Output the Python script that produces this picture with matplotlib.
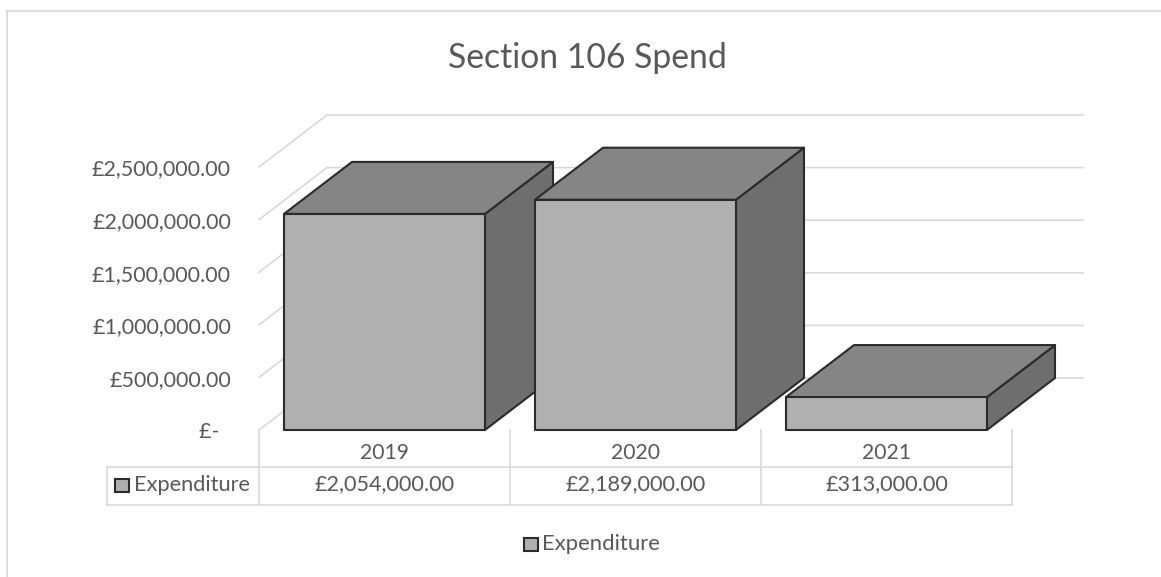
import matplotlib
matplotlib.use('Agg')
import matplotlib.pyplot as plt
from matplotlib.patches import Polygon, Rectangle

years = ['2019', '2020', '2021']
expenditure = [2054000, 2189000, 313000]
table_labels = ['£2,054,000.00', '£2,189,000.00', '£313,000.00']
y_ticks = [0, 500000, 1000000, 1500000, 2000000, 2500000]
y_tick_labels = ['£-  ', '£500,000.00', '£1,000,000.00', '£1,500,000.00',
                 '£2,000,000.00', '£2,500,000.00']

W, H = 1161, 577
TEXT = '#595959'
GRID = '#d9d9d9'
# oblique depth of the fake 3d, in data units
DX = 68 / 251
DY = 52 / 105.2 * 1e6
HALF = 100.5 / 251

plt.rcParams['font.family'] = ['Lato', 'DejaVu Sans']

fig = plt.figure(figsize=(W / 100, H / 100), dpi=100)

# axes spans the back wall, everything in front of it is unclipped
left, right, top, bottom = 259, 1083, 115, 430
ax = fig.add_axes([left / W, 1 - bottom / H, (right - left) / W, (bottom - top) / H])
ax.set_xlim(-0.5, (right - 384.5) / 251)
ax.set_ylim(0, (bottom - top) / 105.2 * 1e6)
ax.axis('off')


def to_fig(px, py):
    return px / W, 1 - py / H


# chart frame, only top and left are inside the crop
fig.add_artist(plt.Line2D([6.5 / W, 6.5 / W], [0, 1 - 11 / H], color=GRID, lw=1.3))
fig.add_artist(plt.Line2D([6.5 / W, 1], [1 - 11 / H, 1 - 11 / H], color=GRID, lw=1.3))

fig.text(*to_fig(587, 58), 'Section 106 Spend', fontsize=24.3, color=TEXT, ha='center', va='center')

# gridlines: slanted part on the side wall then along the back wall
for v, lab in zip(y_ticks, y_tick_labels):
    ax.plot([-0.5, -0.5 + DX, (right - 384.5) / 251], [v, v + DY, v + DY],
            color=GRID, lw=1.2, clip_on=False, zorder=1)
    ax.annotate(lab, (-0.5, v), xytext=(-20.2, -1.8), textcoords='offset points',
                ha='right', va='center', fontsize=15.5, color=TEXT, annotation_clip=False)

# bars, drawn left to right so each hides the side of the one before
for i, v in enumerate(expenditure):
    x0, x1 = i - HALF, i + HALF
    ec = dict(edgecolor='#2b2b2b', lw=1.5, joinstyle='round', clip_on=False, zorder=3 + i)
    ax.add_patch(Polygon([(x1, 0), (x1 + DX, DY), (x1 + DX, v + DY), (x1, v)], facecolor='#6e6e6e', **ec))
    ax.add_patch(Polygon([(x0, v), (x0 + DX, v + DY), (x1 + DX, v + DY), (x1, v)], facecolor='#858585', **ec))
    ax.add_patch(Polygon([(x0, 0), (x1, 0), (x1, v), (x0, v)], facecolor='#b0b0b0', **ec))

# data table under the plot
tbl_left, tbl_mid, tbl_right = 107, 259, 1012
tbl_a, tbl_b, tbl_c = 467, 505, 430
for py in (tbl_a, tbl_b):
    fig.add_artist(plt.Line2D([tbl_left / W, tbl_right / W], [1 - py / H] * 2, color=GRID, lw=1.2))
fig.add_artist(plt.Line2D([tbl_left / W] * 2, [1 - tbl_a / H, 1 - tbl_b / H], color=GRID, lw=1.2))
for i in range(len(years) + 1):
    px = tbl_mid + 251 * i
    fig.add_artist(plt.Line2D([px / W] * 2, [1 - tbl_c / H, 1 - tbl_b / H], color=GRID, lw=1.2))
for i, (yr, lab) in enumerate(zip(years, table_labels)):
    px = 384.5 + 251 * i
    fig.text(*to_fig(px, 453), yr, ha='center', va='center', fontsize=15.2, color=TEXT)
    fig.text(*to_fig(px, 484.5), lab, ha='center', va='center', fontsize=15.6, color=TEXT)

# legend keys
for kx, ky in ((115, 479), (524, 538)):
    fig.add_artist(Rectangle((kx / W, 1 - (ky + 12.5) / H), 14 / W, 12.5 / H, transform=fig.transFigure,
                             facecolor='#b0b0b0', edgecolor='#2b2b2b', lw=1.5))
fig.text(*to_fig(134, 485), 'Expenditure', ha='left', va='center', fontsize=15.7, color=TEXT)
fig.text(*to_fig(542, 544), 'Expenditure', ha='left', va='center', fontsize=15.9, color=TEXT)

fig.savefig('out.png', dpi=100)
